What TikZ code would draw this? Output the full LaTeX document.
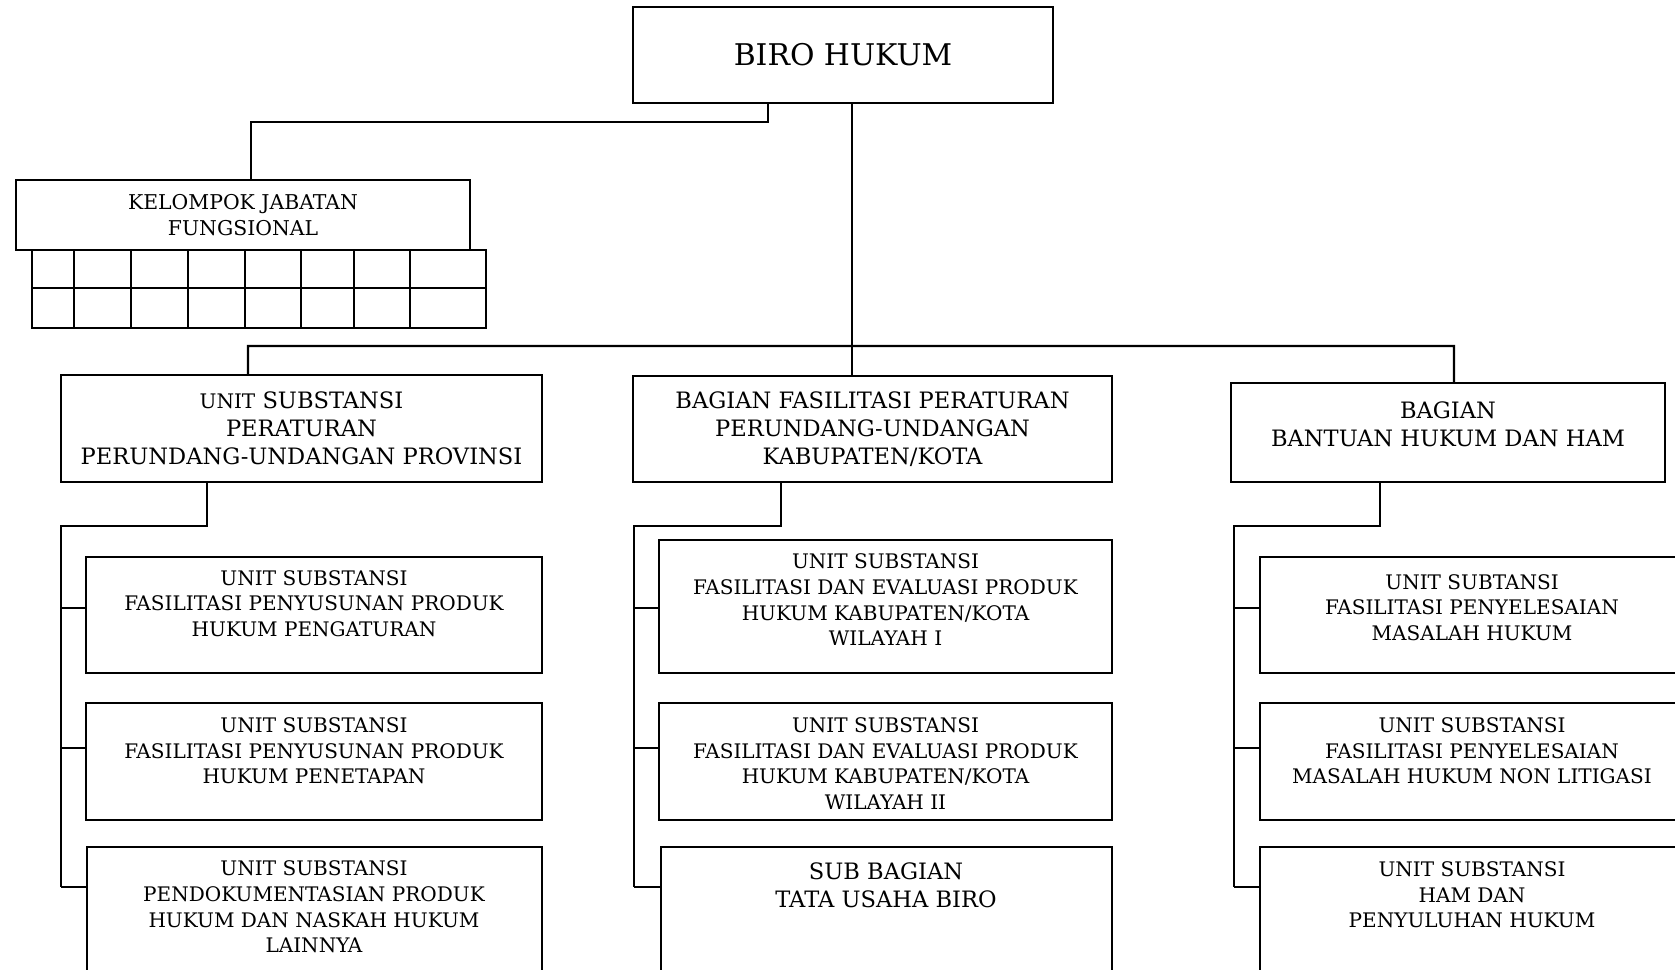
\documentclass[tikz,border=0pt]{standalone}
\usepackage{fontspec}
\setmainfont{DejaVu Serif}
\usetikzlibrary{calc, positioning}

\tikzset{
  kotak/.style={draw, rectangle, line width=1.2pt, inner sep=0pt},
  garis/.style={line width=1.2pt},
  teks/.style={align=center, inner sep=0pt, font=\fontsize{11.4}{14.6}\selectfont},
  teksbesar/.style={align=center, inner sep=0pt, font=\fontsize{12.85}{15.9}\selectfont}
}

\begin{document}
\begin{tikzpicture}[x=0.2mm, y=-0.2mm]
  \useasboundingbox (0,0) rectangle (1675,969);
  \clip (0,0) rectangle (1675,969);

  % pimpinan dan kelompok jabatan fungsional
  \node[kotak, minimum width=84mm, minimum height=19.2mm, font=\fontsize{17}{20}\selectfont] (biro) at (843,55) {BIRO HUKUM};
  \node[kotak, teks, minimum width=90.8mm, minimum height=14mm, font=\fontsize{11.6}{14.6}\selectfont] (kjf) at (243,215) {KELOMPOK JABATAN\\FUNGSIONAL};

  % tabel jabatan fungsional
  \draw[garis] (32,250) rectangle (486,328);
  \draw[garis] (32,288) -- (486,288);
  \foreach \x in {74,131,188,245,301,354,410}
    \draw[garis] (\x,250) -- (\x,328);

  % bagian
  \node[kotak, teksbesar, minimum width=96.2mm, minimum height=21.4mm] (bagA) at (301.5,428.5) {{\fontsize{11.4}{14}\selectfont UNIT} SUBSTANSI\\PERATURAN\\PERUNDANG-UNDANGAN PROVINSI};
  \node[kotak, teksbesar, minimum width=95.8mm, minimum height=21.2mm] (bagB) at (872.5,429) {BAGIAN FASILITASI PERATURAN\\PERUNDANG-UNDANGAN\\KABUPATEN/KOTA};
  \node[kotak, minimum width=86.8mm, minimum height=19.8mm] (bagC) at (1448,432.5) {};
  \node[teksbesar] (bagC-t) at (1448,424) {BAGIAN\\BANTUAN HUKUM DAN HAM};

  % unit di bawah bagian kiri
  \node[kotak, minimum width=91.2mm, minimum height=23.2mm] (sa1) at (314,615) {};
  \node[kotak, minimum width=91.2mm, minimum height=23.4mm] (sa2) at (314,761.5) {};
  \node[kotak, minimum width=91mm, minimum height=30.6mm] (sa3) at (314.5,923.5) {};
  \node[teks] (sa1-t) at (314,603.5) {UNIT SUBSTANSI\\FASILITASI PENYUSUNAN PRODUK\\HUKUM PENGATURAN};
  \node[teks] (sa2-t) at (314,751) {UNIT SUBSTANSI\\FASILITASI PENYUSUNAN PRODUK\\HUKUM PENETAPAN};
  \node[teks] (sa3-t) at (314,907) {UNIT SUBSTANSI\\PENDOKUMENTASIAN PRODUK\\HUKUM DAN NASKAH HUKUM\\LAINNYA};

  % unit di bawah bagian tengah
  \node[kotak, minimum width=90.6mm, minimum height=26.6mm] (sb1) at (885.5,606.5) {};
  \node[kotak, minimum width=90.6mm, minimum height=23.4mm] (sb2) at (885.5,761.5) {};
  \node[kotak, minimum width=90.2mm, minimum height=30.6mm] (sb3) at (886.5,923.5) {};
  \node[teks] (sb1-t) at (885.5,600) {UNIT SUBSTANSI\\FASILITASI DAN EVALUASI PRODUK\\HUKUM KABUPATEN/KOTA\\WILAYAH I};
  \node[teks] (sb2-t) at (885.5,763.5) {UNIT SUBSTANSI\\FASILITASI DAN EVALUASI PRODUK\\HUKUM KABUPATEN/KOTA\\WILAYAH II};
  \node[teksbesar] (sb3-t) at (886,885.6) {SUB BAGIAN\\TATA USAHA BIRO};

  % unit di bawah bagian kanan
  \node[kotak, minimum width=84.8mm, minimum height=23.2mm] (sc1) at (1472,615) {};
  \node[kotak, minimum width=84.8mm, minimum height=23.4mm] (sc2) at (1472,761.5) {};
  \node[kotak, minimum width=84.8mm, minimum height=30.6mm] (sc3) at (1472,923.5) {};
  \node[teks] (sc1-t) at (1472,607.6) {UNIT SUBTANSI\\FASILITASI PENYELESAIAN\\MASALAH HUKUM};
  \node[teks] (sc2-t) at (1472,751) {UNIT SUBSTANSI\\FASILITASI PENYELESAIAN\\MASALAH HUKUM NON LITIGASI};
  \node[teks] (sc3-t) at (1472,895) {UNIT SUBSTANSI\\HAM DAN\\PENYULUHAN HUKUM};

  % garis komando
  \draw[garis] ($(biro.south)+(-75,0)$) -- ++(0,18) -| ($(kjf.north)+(8,0)$);
  \draw[garis] ($(biro.south)+(9,0)$) -- ($(bagB.north)+(-20.5,0)$);
  \coordinate (busA) at ($(bagA.north)+(-53.5,-28)$);
  \coordinate (busC) at ($(bagC.north)+(6,-36)$);
  \draw[garis] ($(bagA.north)+(-53.5,0)$) -- (busA) -- (busC) -- ($(bagC.north)+(6,0)$);

  \foreach \b/\s/\dx/\sx in {bagA/sa/-94.5/61, bagB/sb/-91.5/634, bagC/sc/-68/1234} {
    \draw[garis] ($(\b.south)+(\dx,0)$) |- (\sx,526) -- (\sx,887);
    \foreach \y/\i in {608/1, 748/2, 887/3}
      \draw[garis] (\sx,\y) -- (\s\i.west |- 0,\y);
  }
\end{tikzpicture}
\end{document}
